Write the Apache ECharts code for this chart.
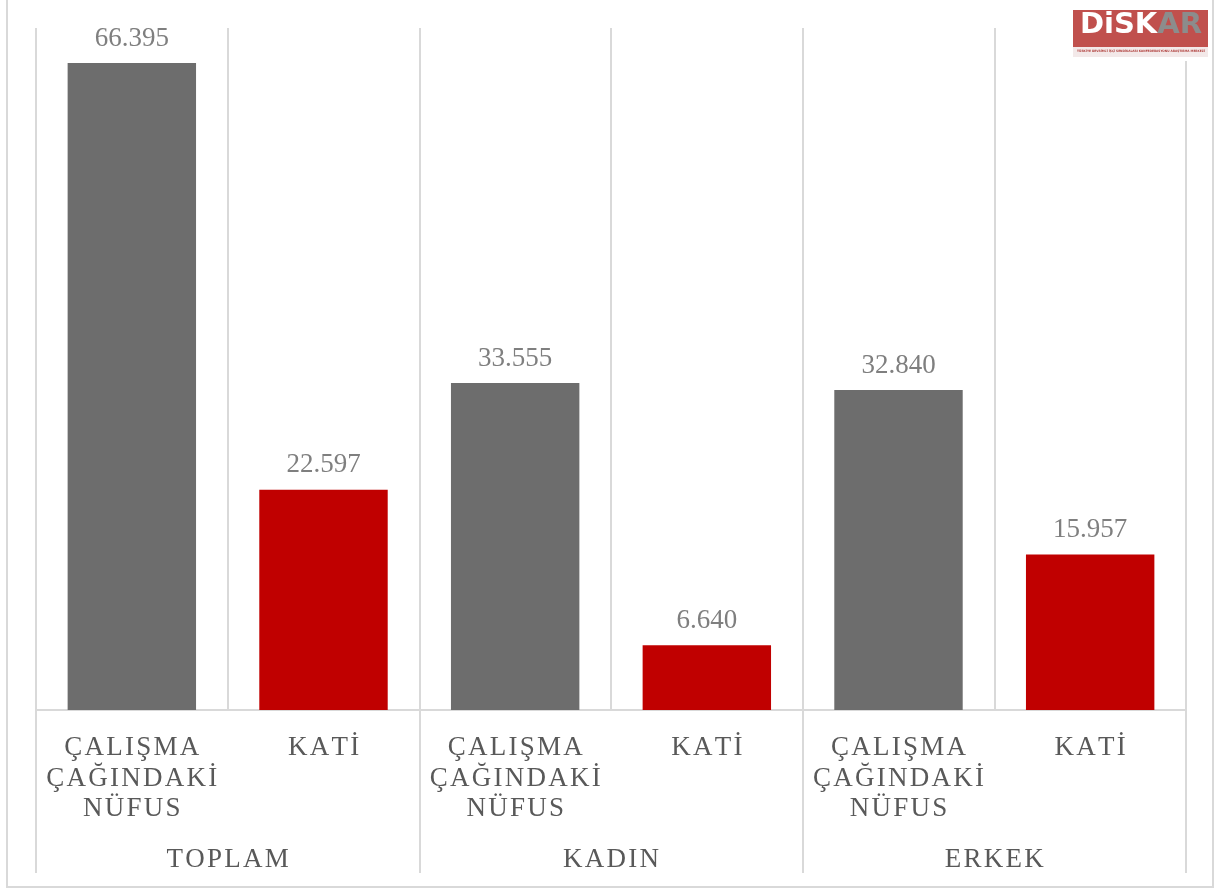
<!DOCTYPE html>
<html>
<head>
<meta charset="utf-8">
<script src="https://cdn.jsdelivr.net/npm/echarts@6/dist/echarts.min.js"></script>
<style>
  html, body { margin: 0; padding: 0; background: #fff; }
  #chart { width: 1218px; height: 891px; }
</style>
</head>
<body>
<div id="chart"></div>
<script>
// data
var groups = ['TOPLAM', 'KADIN', 'ERKEK'];
var subCategories = [
  'ÇALIŞMA\nÇAĞINDAKİ\nNÜFUS', 'KATİ',
  'ÇALIŞMA\nÇAĞINDAKİ\nNÜFUS', 'KATİ',
  'ÇALIŞMA\nÇAĞINDAKİ\nNÜFUS', 'KATİ'
];
var values = [66.395, 22.597, 33.555, 6.640, 32.840, 15.957];
var barColors = ['#6d6d6d', '#c00000'];

// spread letters a bit (no letterSpacing in zrender)
function spaced (s) {
  return s.split('\n').map(function (line) {
    return line.split('').join('\u200A');
  }).join('\n');
}

var chart = echarts.init(document.getElementById('chart'));
var gridColor = '#d9d9d9';
var font = '"Liberation Serif", "DejaVu Serif", serif';

var option = {
  animation: false,
  grid: { left: 36, right: 32, top: 28, bottom: 181 },
  xAxis: [{
    type: 'category',
    data: subCategories.map(spaced),
    axisLine: { show: true, lineStyle: { color: gridColor, width: 2 } },
    axisTick: { show: false },
    splitLine: { show: true, interval: 0, lineStyle: { color: gridColor, width: 2 } },
    axisLabel: {
      interval: 0,
      margin: 23,
      color: '#595959',
      fontFamily: font,
      fontSize: 27,
      lineHeight: 30.5,
      verticalAlign: 'top'
    }
  }, {
    type: 'category',
    position: 'bottom',
    data: groups.map(spaced),
    axisLine: { show: false },
    axisTick: { show: true, interval: 0, length: 163, lineStyle: { color: gridColor, width: 2 } },
    axisLabel: {
      interval: 0,
      margin: 135,
      color: '#595959',
      fontFamily: font,
      fontSize: 27,
      lineHeight: 30,
      verticalAlign: 'top'
    }
  }],
  yAxis: {
    type: 'value',
    min: 0,
    max: 70,
    show: false,
    splitLine: { show: false }
  },
  series: [{
    type: 'bar',
    xAxisIndex: 0,
    barWidth: '67%',
    data: values.map(function (v, i) {
      return { value: v, itemStyle: { color: barColors[i % 2] } };
    }),
    label: {
      show: true,
      position: 'top',
      distance: 11,
      color: '#7f7f7f',
      fontFamily: font,
      fontSize: 27,
      formatter: function (p) { return p.value.toFixed(3); }
    }
  }],
  graphic: [{
    type: 'rect',
    z: 100,
    shape: { x: 7, y: -5, width: 1206, height: 892 },
    style: { fill: 'none', stroke: gridColor, lineWidth: 2 }
  }, {
    // logo, drawn above the grid lines
    type: 'rect',
    z: 100,
    shape: { x: 1070, y: 7, width: 141, height: 54 },
    style: { fill: '#ffffff' }
  }, {
    type: 'rect',
    z: 101,
    shape: { x: 1073, y: 10, width: 135, height: 37 },
    style: { fill: '#c0504d' }
  }, {
    type: 'rect',
    z: 101,
    shape: { x: 1073, y: 47, width: 135, height: 10 },
    style: { fill: '#f3e9e9' }
  }, {
    type: 'text',
    z: 102,
    x: 1141,
    y: 11,
    style: {
      text: '{w|DiSK}{g|AR}',
      align: 'center',
      rich: {
        w: { fontFamily: 'DejaVu Sans', fontWeight: 'bold', fontSize: 29, fill: '#ffffff' },
        g: { fontFamily: 'DejaVu Sans', fontWeight: 'bold', fontSize: 29, fill: '#8c8c8c' }
      }
    }
  }, {
    type: 'text',
    z: 102,
    x: 1141,
    y: 50,
    style: {
      text: 'TÜRKİYE DEVRİMCİ İŞÇİ SENDİKALARI KONFEDERASYONU ARAŞTIRMA MERKEZİ',
      align: 'center',
      fontFamily: 'DejaVu Sans Condensed',
      fontWeight: 'bold',
      fontSize: 3.2,
      fill: '#b0403d'
    }
  }]
};

chart.setOption(option);
window.addEventListener('resize', function () {
  chart.resize();
});
</script>
</body>
</html>
